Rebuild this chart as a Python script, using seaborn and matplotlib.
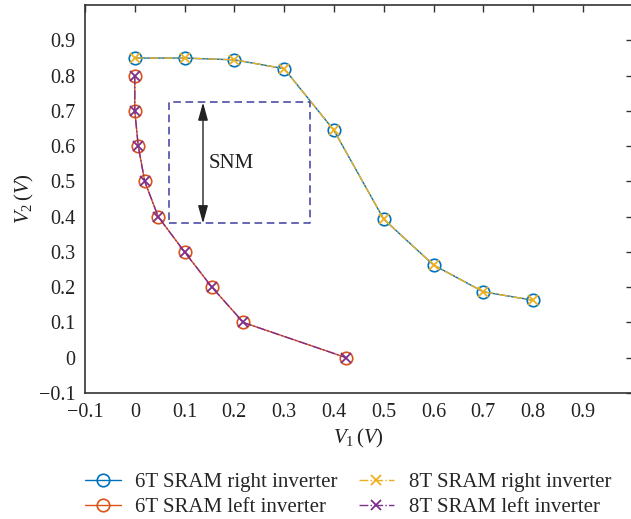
import numpy as np
import pandas as pd
import matplotlib
matplotlib.use('Agg')
import matplotlib.pyplot as plt
import seaborn as sns

# dane
right_v1 = [0.0, 0.1, 0.2, 0.3, 0.4, 0.5, 0.6, 0.7, 0.8]
right_v2 = [0.85, 0.85, 0.845, 0.82, 0.645, 0.393, 0.263, 0.187, 0.163]
left_v1 = [0.0, 0.0, 0.007, 0.02, 0.047, 0.1, 0.155, 0.218, 0.425]
left_v2 = [0.8, 0.7, 0.6, 0.5, 0.4, 0.3, 0.2, 0.1, 0.0]

series_names = ["6T SRAM right inverter", "6T SRAM left inverter",
                "8T SRAM right inverter", "8T SRAM left inverter"]

snm_box_x = [0.068, 0.351]
snm_box_y = [0.381, 0.724]
snm_arrow_x = 0.137

x_ticks = [-0.1, 0, 0.1, 0.2, 0.3, 0.4, 0.5, 0.6, 0.7, 0.8, 0.9]
x_tick_labels = ["\u22120.1", "0", "0.1", "0.2", "0.3", "0.4", "0.5", "0.6", "0.7", "0.8", "0.9"]
y_ticks = [-0.1, 0, 0.1, 0.2, 0.3, 0.4, 0.5, 0.6, 0.7, 0.8, 0.9]
y_tick_labels = ["\u22120.1", "0", "0.1", "0.2", "0.3", "0.4", "0.5", "0.6", "0.7", "0.8", "0.9"]

sns.set_style("white")
plt.rcParams['font.family'] = ['Liberation Serif', 'DejaVu Serif']
plt.rcParams['mathtext.fontset'] = 'custom'
plt.rcParams['mathtext.rm'] = 'Liberation Serif'
plt.rcParams['mathtext.it'] = 'Liberation Serif:italic'

fig = plt.figure(figsize=(6.31, 5.19), dpi=100)
ax = fig.add_axes([0.1347, 0.2428, 0.868, 0.7472])

blue, orange, yellow, purple = "#0072BD", "#D95319", "#EDB120", "#7E2F8E"

sns.lineplot(x=right_v1, y=right_v2, ax=ax, sort=False, estimator=None, color=blue,
             lw=1.0, marker="o", ms=9, mfc="none", mec=blue, mew=1.2, label=series_names[0])
sns.lineplot(x=left_v1, y=left_v2, ax=ax, sort=False, estimator=None, color=orange,
             lw=1.0, marker="o", ms=9, mfc="none", mec=orange, mew=1.2, label=series_names[1])
sns.lineplot(x=right_v1, y=right_v2, ax=ax, sort=False, estimator=None, color=yellow,
             lw=1.0, linestyle="-.", marker="x", ms=6.5, mec=yellow, mew=1.3, label=series_names[2])
sns.lineplot(x=left_v1, y=left_v2, ax=ax, sort=False, estimator=None, color=purple,
             lw=1.0, linestyle="-.", marker="x", ms=6.5, mec=purple, mew=1.3, label=series_names[3])

# prostokat SNM
bx = [snm_box_x[0], snm_box_x[1], snm_box_x[1], snm_box_x[0], snm_box_x[0]]
by = [snm_box_y[0], snm_box_y[0], snm_box_y[1], snm_box_y[1], snm_box_y[0]]
ax.plot(bx, by, color="#3f3f9f", lw=1.1, ls=(0, (5, 3)))
ax.annotate("", xy=(snm_arrow_x, snm_box_y[1]), xytext=(snm_arrow_x, snm_box_y[0]),
            arrowprops=dict(arrowstyle="<|-|>,head_length=0.9,head_width=0.25", color="#222222",
                            lw=1.0, mutation_scale=12, shrinkA=0, shrinkB=0))
ax.text(0.149, 0.551, "SNM", fontsize=15, va="center", ha="left", color="#222222")

ax.set_xlim(-0.1, 1.0)
ax.set_ylim(-0.1, 1.0)
ax.set_xticks(x_ticks)
ax.set_xticklabels(x_tick_labels)
ax.set_yticks(y_ticks)
ax.set_yticklabels(y_tick_labels)
ax.tick_params(direction="in", top=True, right=True, length=5, width=1, pad=7,
               labelsize=14.5, color="#333333", labelcolor="#222222")
for s in ax.spines.values():
    s.set_color("#333333")
    s.set_linewidth(1.2)

ax.set_xlabel("$V_1\\,(V)$", fontsize=15, color="#222222", labelpad=4)
ax.set_ylabel("$V_2\\,(V)$", fontsize=15, color="#222222", labelpad=2)

ax.legend(loc="center", bbox_to_anchor=(0.552, 0.047), bbox_transform=fig.transFigure,
          ncol=2, frameon=False, fontsize=15, handlelength=1.7, columnspacing=1.0,
          labelspacing=0.25, handletextpad=0.7, borderpad=0.2)

fig.savefig("out.png", dpi=100)
